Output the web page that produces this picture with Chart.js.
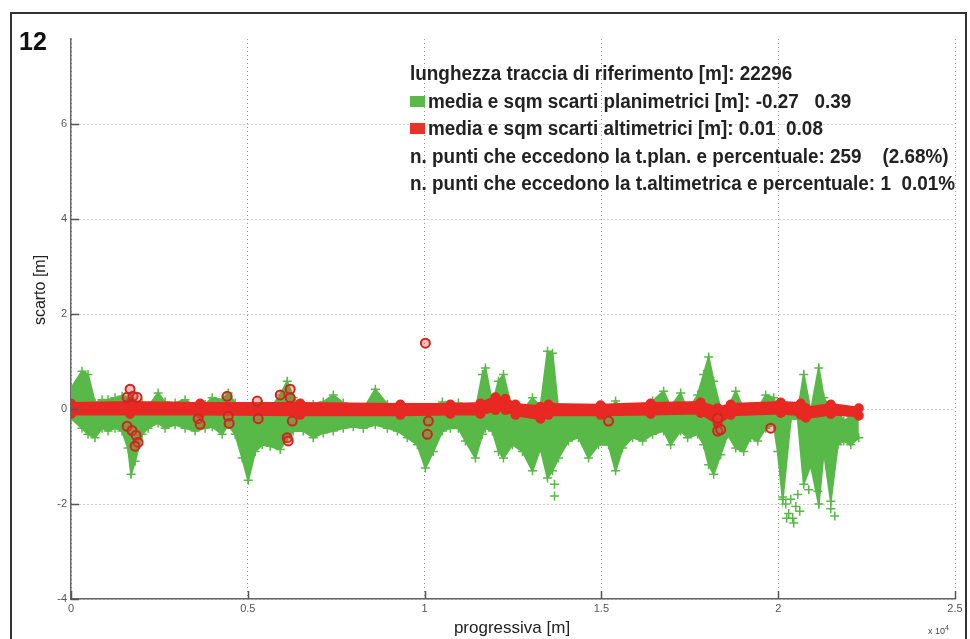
<!DOCTYPE html>
<html>
<head>
<meta charset="utf-8">
<script src="https://cdn.jsdelivr.net/npm/chart.js@4"></script>
<style>
  html, body { margin: 0; padding: 0; background: #fff; }
  #wrap { position: relative; width: 970px; height: 639px; overflow: hidden; font-family: "Liberation Sans", Arial, sans-serif; }
  #frame { position: absolute; left: 10px; top: 12px; width: 957px; height: 660px; border: 2px solid #333; box-sizing: border-box; }
  #grafico { position: absolute; left: 0; top: 0; }
  .num { position: absolute; left: 19px; top: 27px; font-size: 25px; font-weight: bold; color: #111; }
  .info { position: absolute; left: 0; top: 0; font-family: "Liberation Sans", Arial, sans-serif; font-weight: bold; font-size: 20px; line-height: 20px; color: #222; white-space: pre; transform-origin: 0 50%; }
  .quad { position: absolute; width: 15px; height: 11px; }
  .ytitle { position: absolute; left: 40px; top: 290px; transform: translate(-50%, -50%) rotate(-90deg); font-size: 16px; color: #222; white-space: nowrap; }
  .xtitle { position: absolute; left: 512px; top: 628px; transform: translate(-50%, -50%); font-size: 17px; color: #222; white-space: nowrap; }
  .exp { position: absolute; left: 928px; top: 624px; font-size: 9px; color: #444; }
</style>
</head>
<body>
<div id="wrap">
  <div id="frame"></div>
  <canvas id="grafico" width="970" height="639"></canvas>
  <div class="num">12</div>
  <div class="info riga" style="left:410px; top:63px">lunghezza traccia di riferimento [m]: 22296</div>
  <div class="quad" style="left:410px; top:96px; background:#5cb84a"></div>
  <div class="info riga" style="left:428px; top:91px">media e sqm scarti planimetrici [m]: -0.27   0.39</div>
  <div class="quad" style="left:410px; top:123px; background:#e8332a"></div>
  <div class="info riga" style="left:428px; top:118px">media e sqm scarti altimetrici [m]: 0.01  0.08</div>
  <div class="info riga" style="left:410px; top:146px">n. punti che eccedono la t.plan. e percentuale: 259    (2.68%)</div>
  <div class="info riga" id="r5" style="left:410px; top:173px">n. punti che eccedono la t.altimetrica e percentuale: 1  0.01%</div>
  <div class="ytitle">scarto [m]</div>
  <div class="xtitle">progressiva [m]</div>
  <div class="exp">x 10<sup style="font-size:7px">4</sup></div>
</div>
<script>
// assi
const xTicks = [0, 5000, 10000, 15000, 20000, 25000]
const xTickLabels = ['0', '0.5', '1', '1.5', '2', '2.5']
const yTicks = [-4, -2, 0, 2, 4, 6]

// scarti planimetrici (inviluppo della fascia verde)
const planX = [0, 311, 481, 679, 878, 1047, 1246, 1444, 1614, 1699, 1812, 2010, 2180, 2463, 2661, 2944,
  3227, 3510, 3794, 3992, 4275, 4445, 4643, 4841, 5011, 5209, 5407, 5634, 5917, 6115, 6285, 6568,
  6851, 7134, 7417, 7700, 7983, 8267, 8606, 8946, 9229, 9512, 9795, 10022, 10248, 10503, 10729, 10956,
  11154, 11437, 11635, 11720, 11919, 12088, 12230, 12485, 12768, 13051, 13277, 13476, 13617, 13787, 14070, 14353,
  14636, 14919, 15202, 15401, 15599, 15882, 16165, 16448, 16760, 16958, 17241, 17439, 17722, 17892, 18033, 18175,
  18373, 18571, 18798, 19024, 19222, 19421, 19647, 19874, 19987, 20128, 20355, 20553, 20723, 20921, 21147, 21289,
  21487, 21685, 21855, 22053, 22280]
const planTop = [0.44, 0.8, 0.73, 0.13, 0.2, 0.2, 0.24, 0.27, 0.24, 0.2, 0.15, 0.13, 0.05, 0.34, 0.15, 0.13,
  0.2, 0.05, 0.1, 0.24, 0.2, 0.34, 0.13, 0.05, 0.0, 0.05, 0.1, 0.0, 0.3, 0.59, 0.24, 0.0,
  0.1, 0.15, 0.3, 0.13, 0.0, 0.0, 0.42, 0.1, 0.0, -0.03, -0.03, -0.05, 0.02, 0.15, 0.05, 0.13,
  -0.03, -0.03, 0.73, 0.87, 0.1, 0.59, 0.73, -0.05, -0.05, 0.24, 0.05, 1.22, 1.18, -0.05, -0.08, -0.08,
  -0.05, -0.05, -0.08, 0.17, -0.05, 0.0, -0.05, 0.17, 0.38, 0.05, 0.34, -0.05, 0.3, 0.73, 1.1, 0.59,
  0.0, 0.0, 0.38, 0.0, 0.05, 0.0, 0.3, 0.24, 0.0, -0.05, -0.05, -0.05, 0.73, -0.05, 0.87, 0.24,
  0.0, -0.05, -0.25, -0.15, -0.1]
const planBot = [-0.19, -0.4, -0.53, -0.6, -0.4, -0.46, -0.4, -0.46, -0.82, -1.37, -1.1, -0.53, -0.4, -0.29, -0.4, -0.33,
  -0.4, -0.46, -0.4, -0.37, -0.53, -0.33, -0.53, -1.03, -1.5, -0.89, -0.75, -0.78, -0.85, -0.6, -0.46, -0.46,
  -0.6, -0.5, -0.46, -0.4, -0.37, -0.4, -0.33, -0.4, -0.46, -0.6, -0.75, -1.24, -0.89, -0.46, -0.4, -0.4,
  -0.67, -1.03, -0.53, -0.4, -0.46, -0.89, -1.03, -0.75, -0.89, -1.3, -0.82, -1.45, -1.3, -1.03, -0.67, -0.6,
  -1.03, -0.75, -0.75, -1.3, -0.82, -0.6, -0.67, -0.53, -0.46, -0.75, -0.46, -0.6, -0.53, -0.75, -1.17, -1.37,
  -0.96, -0.53, -0.82, -0.89, -0.6, -0.67, -0.4, -0.33, -0.89, -1.9, -0.2, -0.2, -1.58, -1.17, -2.0, -0.89,
  -1.94, -0.75, -0.67, -0.75, -0.6]
// punti verdi isolati
const planOutX = [13674, 13674, 20128, 20213, 20241, 20298, 20355, 20411, 20440, 20496, 20553, 20610, 20864, 21119, 21487, 21600]
const planOutY = [-1.58, -1.83, -1.85, -2.0, -2.3, -2.2, -1.9, -2.3, -2.4, -2.05, -1.8, -2.15, -1.7, -1.73, -2.1, -2.25]

// scarti altimetrici (fascia rossa)
const altX = [0, 1670, 3652, 6483, 9314, 10729, 11578, 12003, 12286, 12570, 13278, 13504, 14977, 16392, 17807, 18288, 18656, 20071, 20638, 20780, 21488, 22280]
const altTop = [0.12, 0.14, 0.12, 0.12, 0.1, 0.1, 0.12, 0.25, 0.22, 0.1, 0.05, 0.1, 0.08, 0.12, 0.14, 0.02, 0.1, 0.14, 0.12, 0.02, 0.1, 0.02]
const altBot = [-0.1, -0.1, -0.1, -0.12, -0.12, -0.1, -0.1, -0.02, -0.02, -0.12, -0.2, -0.12, -0.12, -0.1, -0.08, -0.3, -0.12, -0.08, -0.12, -0.18, -0.1, -0.14]
// cerchi rossi fuori fascia
const altOutX = [1670, 1585, 1755, 1868, 1585, 1727, 1840, 1897, 1812, 3595, 3652, 4416, 4445, 4473, 5266, 5294,
  5917, 6200, 6200, 6257, 6115, 6143, 10022, 10107, 10078, 15202, 18288, 18288, 18373, 19789]
const altOutY = [0.42, 0.25, 0.27, 0.25, -0.36, -0.45, -0.55, -0.7, -0.78, -0.2, -0.32, 0.27, -0.15, -0.3, 0.17, -0.2,
  0.3, 0.42, 0.24, -0.25, -0.6, -0.67, 1.39, -0.25, -0.53, -0.25, -0.19, -0.46, -0.43, -0.4]

const verde = 'rgb(88, 184, 72)'
const rosso = 'rgb(232, 40, 34)'

function punti(xs, ys) {
    return xs.map((x, i) => ({ x: x, y: ys[i] }))
}

// tacche interne stile matlab
const tacche = {
    id: 'tacche',
    afterDraw(chart) {
        const ctx = chart.ctx
        const a = chart.chartArea
        ctx.save()
        ctx.strokeStyle = '#555'
        ctx.lineWidth = 1.5
        ctx.beginPath()
        for (const v of yTicks) {
            const py = Math.round(chart.scales.y.getPixelForValue(v)) + 0.5
            ctx.moveTo(a.left, py)
            ctx.lineTo(a.left + 8, py)
        }
        for (const v of xTicks) {
            const px = Math.round(chart.scales.x.getPixelForValue(v)) + 0.5
            ctx.moveTo(px, a.bottom)
            ctx.lineTo(px, a.bottom - 8)
        }
        ctx.stroke()
        ctx.restore()
    }
}

const dataGrafico = {
    datasets: [{
        label: 'altimetrici fuori',
        data: punti(altOutX, altOutY),
        pointStyle: 'circle',
        pointRadius: 4.5,
        pointBorderWidth: 2,
        pointBorderColor: 'rgb(200, 40, 30)',
        pointBackgroundColor: 'rgba(240, 70, 60, 0.35)',
        showLine: false,
        order: 0
    }, {
        label: 'altimetrici sup',
        data: punti(altX, altTop),
        showLine: true,
        borderColor: rosso,
        borderWidth: 3,
        pointStyle: 'circle',
        pointRadius: 3.5,
        pointBorderColor: rosso,
        pointBackgroundColor: rosso,
        fill: false,
        order: 1
    }, {
        label: 'altimetrici inf',
        data: punti(altX, altBot),
        showLine: true,
        borderColor: rosso,
        borderWidth: 3,
        pointStyle: 'circle',
        pointRadius: 3.5,
        pointBorderColor: rosso,
        pointBackgroundColor: rosso,
        backgroundColor: rosso,
        fill: '-1',
        order: 1
    }, {
        label: 'planimetrici sup',
        data: punti(planX, planTop),
        showLine: true,
        borderColor: verde,
        borderWidth: 2,
        pointStyle: 'cross',
        pointRadius: 4.5,
        pointBorderWidth: 1.5,
        pointBorderColor: verde,
        fill: false,
        order: 2
    }, {
        label: 'planimetrici inf',
        data: punti(planX, planBot),
        showLine: true,
        borderColor: verde,
        borderWidth: 2,
        pointStyle: 'cross',
        pointRadius: 4.5,
        pointBorderWidth: 1.5,
        pointBorderColor: verde,
        backgroundColor: verde,
        fill: '-1',
        order: 2
    }, {
        label: 'planimetrici isolati',
        data: punti(planOutX, planOutY),
        showLine: false,
        pointStyle: 'cross',
        pointRadius: 4.5,
        pointBorderWidth: 1.5,
        pointBorderColor: verde,
        order: 2
    }]
}

const fontTick = { family: '"Liberation Sans", Arial, sans-serif', size: 11 }

const configGrafico = {
    type: 'scatter',
    data: dataGrafico,
    options: {
        responsive: false,
        animation: false,
        layout: { padding: { top: 39, right: 15, left: 0, bottom: 0 } },
        plugins: {
            legend: { display: false },
            tooltip: { enabled: false }
        },
        scales: {
            x: {
                type: 'linear',
                min: 0,
                max: 25000,
                afterFit: (s) => { s.height = 40 },
                afterBuildTicks: (s) => { s.ticks = xTicks.map(v => ({ value: v })) },
                ticks: {
                    padding: 3,
                    color: '#555',
                    font: fontTick,
                    maxRotation: 0,
                    callback: (v) => xTickLabels[xTicks.indexOf(v)]
                },
                grid: { color: '#999', lineWidth: 1, drawTicks: false },
                border: { display: true, color: '#666', width: 1.5, dash: [1, 3] }
            },
            y: {
                type: 'linear',
                min: -4,
                max: 7.8,
                afterFit: (s) => { s.width = 71 },
                afterBuildTicks: (s) => { s.ticks = yTicks.map(v => ({ value: v })) },
                ticks: {
                    padding: 4,
                    color: '#555',
                    font: fontTick,
                    callback: (v) => String(v)
                },
                grid: { color: '#999', lineWidth: 1, drawTicks: false },
                border: { display: true, color: '#666', width: 1.5, dash: [1, 3] }
            }
        }
    },
    plugins: [tacche]
}

var grafico = new Chart(document.getElementById('grafico'), configGrafico)

// stessa compressione orizzontale per tutte le righe (testo condensato)
const larghezzaR5 = document.getElementById('r5').getBoundingClientRect().width
const k = 545 / larghezzaR5
for (const el of document.getElementsByClassName('riga')) {
    el.style.transform = 'scaleX(' + k + ')'
}
</script>
</body>
</html>
